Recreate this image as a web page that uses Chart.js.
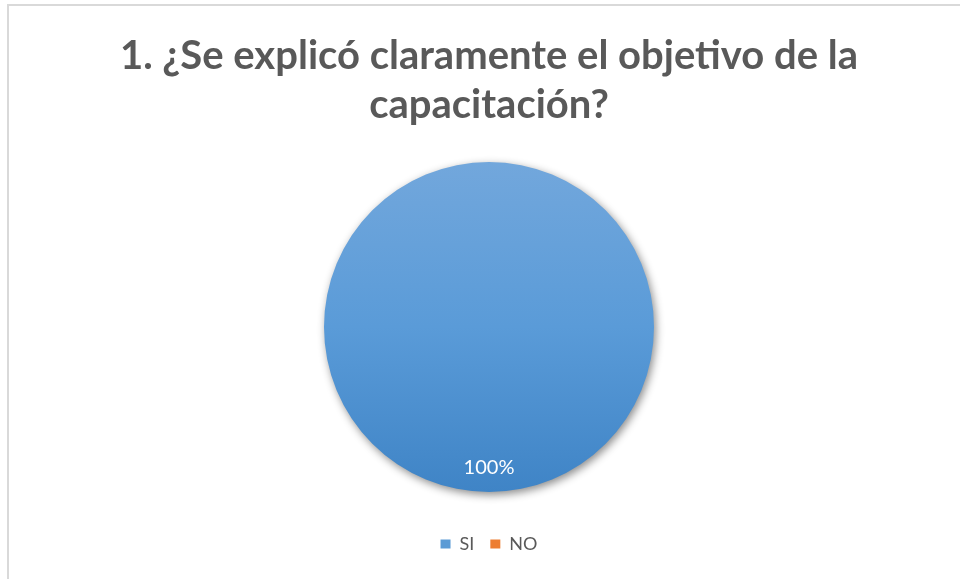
<!DOCTYPE html>
<html>
<head>
<meta charset="utf-8">
<script src="https://cdn.jsdelivr.net/npm/chart.js@4.4.0/dist/chart.umd.min.js"></script>
<style>
html, body { margin: 0; padding: 0; background: #fff; overflow: hidden; }
#wrap { position: relative; width: 960px; height: 579px; }
#frame { position: absolute; left: 7px; top: 4px; width: 1000px; height: 1000px; border-top: 2px solid #d9d9d9; border-left: 2px solid #d9d9d9; }
canvas { position: absolute; left: 0; top: 0; }
</style>
</head>
<body>
<div id="wrap">
  <div id="frame"></div>
  <canvas id="chart" width="960" height="579"></canvas>
</div>
<script>
// chart data
const titleLines = ['1. ¿Se explicó claramente el objetivo de la', 'capacitación?'];
const categories = ['SI', 'NO'];
const values = [100, 0];
const colors = ['#5b9bd5', '#ed7d31'];

const FONT = "Lato, sans-serif";
const TEXT_COLOR = '#595959';

const pieGradient = (context) => {
    const area = context.chart.chartArea;
    if (!area) return colors[0];
    const cy = (area.top + area.bottom) / 2;
    const g = context.chart.ctx.createLinearGradient(0, cy - 165, 0, cy + 165);
    g.addColorStop(0, '#72a7dc');
    g.addColorStop(0.5, '#5a9bd8');
    g.addColorStop(1, '#3f84c6');
    return g;
};

const shadowPlugin = {
    id: 'shadow',
    beforeDatasetsDraw(chart) {
        const ctx = chart.ctx;
        ctx.save();
        ctx.shadowColor = 'rgba(0,0,0,0.45)';
        ctx.shadowBlur = 9;
        ctx.shadowOffsetX = 2;
        ctx.shadowOffsetY = 3;
    },
    afterDatasetsDraw(chart) {
        chart.ctx.restore();
    }
};

const percentLabels = {
    id: 'percentLabels',
    afterDraw(chart) {
        const ctx = chart.ctx;
        const total = values.reduce((a, b) => a + b, 0);
        chart.getDatasetMeta(0).data.forEach((arc, i) => {
            if (!values[i]) return;
            const p = arc.getProps(['x', 'y', 'startAngle', 'endAngle', 'outerRadius'], true);
            const mid = (p.startAngle + p.endAngle) / 2;
            const r = p.outerRadius * 0.85;
            ctx.save();
            ctx.fillStyle = '#ffffff';
            ctx.font = '20px ' + FONT;
            ctx.textAlign = 'center';
            ctx.textBaseline = 'middle';
            ctx.fillText(Math.round(values[i] / total * 100) + '%', p.x + Math.cos(mid) * r, p.y + Math.sin(mid) * r);
            ctx.restore();
        });
    }
};

new Chart(document.getElementById('chart').getContext('2d'), {
    type: 'pie',
    data: {
        labels: categories,
        datasets: [{
            data: values,
            backgroundColor: (c) => c.dataIndex === 0 ? pieGradient(c) : colors[c.dataIndex],
            borderWidth: 0
        }]
    },
    options: {
        responsive: false,
        animation: false,
        radius: 165,
        layout: { padding: { left: 18, top: 0, right: 0, bottom: 16 } },
        plugins: {
            title: {
                display: true,
                text: titleLines,
                color: TEXT_COLOR,
                font: { family: FONT, size: 40, weight: 'bold', lineHeight: '49px' },
                padding: { top: 32, bottom: 5 }
            },
            legend: {
                position: 'bottom',
                labels: {
                    color: TEXT_COLOR,
                    font: { family: FONT, size: 18 },
                    boxWidth: 10,
                    boxHeight: 9,
                    padding: 16,
                    generateLabels: () => categories.map((c, i) => ({
                        text: c, fillStyle: colors[i], strokeStyle: colors[i], lineWidth: 0, hidden: false, index: i, fontColor: TEXT_COLOR
                    }))
                }
            },
            tooltip: { enabled: false }
        }
    },
    plugins: [shadowPlugin, percentLabels]
});
</script>
</body>
</html>
